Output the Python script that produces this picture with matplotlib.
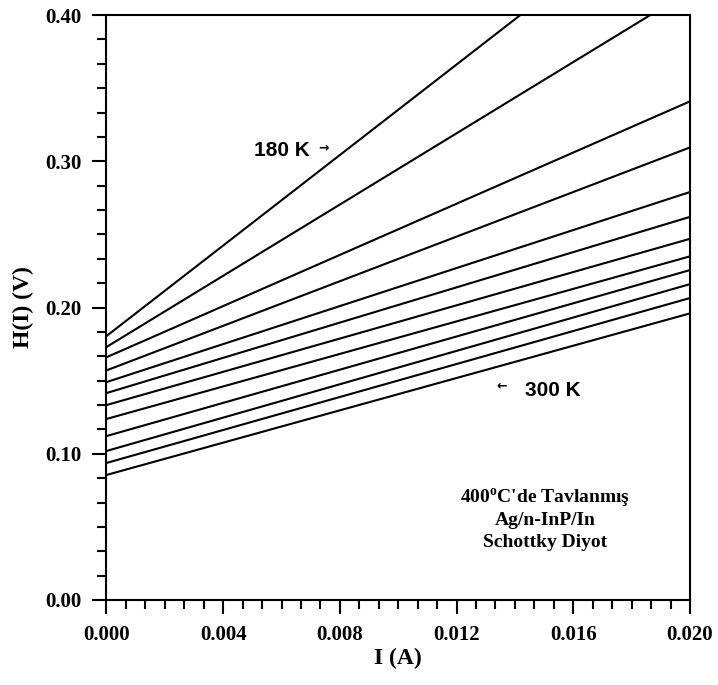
import matplotlib
matplotlib.use("Agg")
import matplotlib.pyplot as plt
from matplotlib.ticker import MultipleLocator

plt.rcParams["font.family"] = ["Liberation Serif", "DejaVu Serif"]
plt.rcParams["font.weight"] = "bold"
plt.rcParams["mathtext.fontset"] = "custom"
plt.rcParams["mathtext.rm"] = "Liberation Serif:bold"

# data: H(I) at I = 0 and I = 0.020 A, 180 K (top) ... 300 K (bottom)
current = [0.0, 0.020]
h_start = [0.1805, 0.173, 0.166, 0.157, 0.149, 0.1415,
           0.1333, 0.1238, 0.1121, 0.1019, 0.0937, 0.0855]
h_end = [0.490, 0.4166, 0.341, 0.3095, 0.279, 0.262,
         0.247, 0.235, 0.2256, 0.216, 0.2065, 0.196]

fig = plt.figure(figsize=(7.18, 6.85), dpi=100)
ax = fig.add_axes([0.1483, 0.1241, 0.8127, 0.8539])

for h0, h1 in zip(h_start, h_end):
    ax.plot(current, [h0, h1], color="black", lw=1.5)

ax.set_xlim(0, 0.020)
ax.set_ylim(0, 0.40)
ax.xaxis.set_major_locator(MultipleLocator(0.004))
ax.xaxis.set_minor_locator(MultipleLocator(0.004 / 6))
ax.yaxis.set_major_locator(MultipleLocator(0.10))
ax.yaxis.set_minor_locator(MultipleLocator(0.10 / 6))
ax.xaxis.set_major_formatter(plt.FormatStrFormatter("%.3f"))
ax.yaxis.set_major_formatter(plt.FormatStrFormatter("%.2f"))

ax.tick_params(which="both", direction="out", width=1.5, top=False, right=False)
ax.tick_params(which="major", length=10, labelsize=15)
ax.tick_params(axis="x", which="major", pad=8)
ax.tick_params(axis="y", which="major", pad=8)
ax.tick_params(which="minor", length=6.5)
for s in ax.spines.values():
    s.set_linewidth(1.5)

ax.set_xlabel("I (A)", fontsize=17, fontweight="bold", labelpad=2)
ax.set_ylabel("H(I) (V)", fontsize=17, fontweight="bold", labelpad=8)

# temperature labels
ax.text(0.00505, 0.3075, "180 K", fontsize=15, fontweight="bold",
        family="Liberation Sans", va="center")
ax.text(0.00725, 0.3095, "→", fontsize=9, fontweight="bold",
        family="DejaVu Sans", va="center")
ax.text(0.01338, 0.1463, "←", fontsize=9, fontweight="bold",
        family="DejaVu Sans", va="center")
ax.text(0.01434, 0.1436, "300 K", fontsize=15, fontweight="bold",
        family="Liberation Sans", va="center")

# inset caption
caption = ["400$^{\\mathrm{o}}$C'de Tavlanmış", "Ag/n-InP/In", "Schottky Diyot"]
caption_y = [0.0663, 0.0513, 0.0362]
for line, yy in zip(caption, caption_y):
    ax.text(0.01503, yy, line, fontsize=14, fontweight="bold",
            ha="center", va="baseline")

fig.savefig("out.png", dpi=100)
